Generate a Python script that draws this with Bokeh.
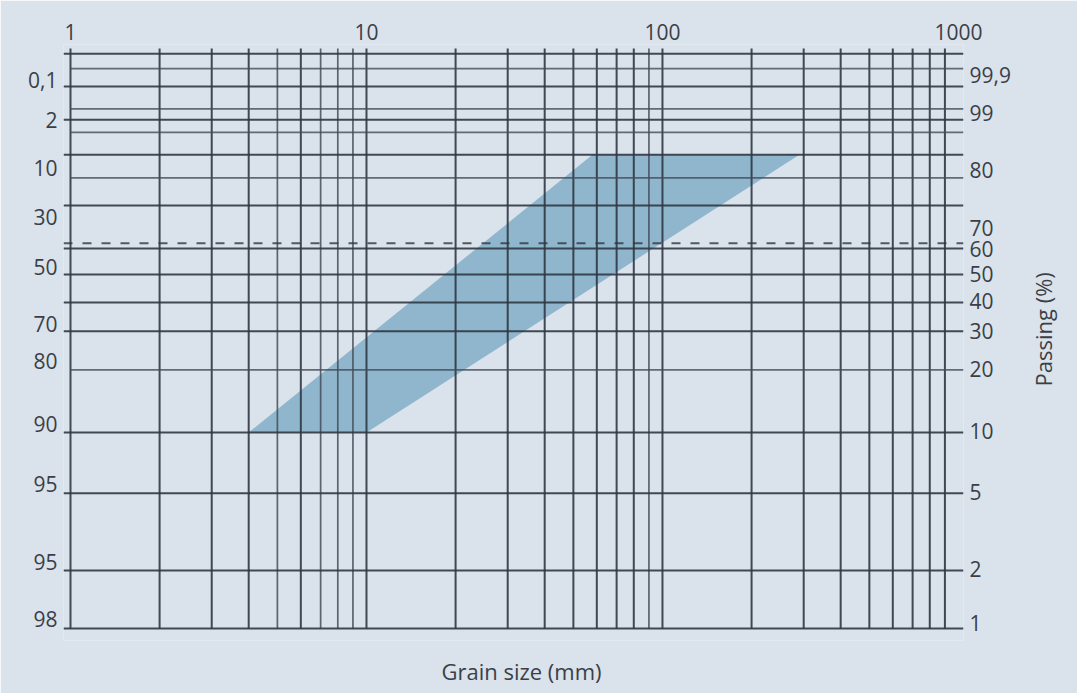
import math
from bokeh.plotting import figure
from bokeh.models import Range1d, LogAxis, LinearAxis, FixedTicker
from bokeh.embed import file_html
from bokeh.resources import INLINE

# ---------------- data ----------------
# x: grain size (mm), logarithmic
size_ticks = [1, 10, 100, 1000]
size_tick_labels = ["1", "10", "100", "1000"]
grid_sizes_dark = [1, 2, 3, 4, 6, 10, 20, 30, 40, 50, 60, 70, 80, 100,
                   200, 300, 400, 500, 600, 700, 800, 900]
grid_sizes_light = [5, 7, 8, 9, 90]

# y: position on the probability scale (0 = bottom line, 1000 = top line)
levels_long = [1000, 943, 885, 824, 736, 661, 616, 567, 517, 341, 235, 101, 0]
levels_short = [974, 904, 863, 784, 450]
levels_dashed = [670]

left_label_pos = [954, 884, 801, 716, 629, 530, 466, 356, 252, 116, 17]
left_labels = ["0,1", "2", "10", "30", "50", "70", "80", "90", "95", "95", "98"]
right_label_pos = [963, 897, 798, 697, 661, 617, 569, 518, 452, 344, 237, 104, 9]
right_labels = ["99,9", "99", "80", "70", "60", "50", "40", "30", "20", "10", "5", "2", "1"]

x_title = "Grain size (mm)"
x_title_at = [33.4]
y_title = "Passing (%)"
y_title_at = [421]

# grading envelope (grain size mm, scale position)
band_size = [4, 10, 290, 58]
band_level = [341, 341, 824, 824]

# ---------------- style ----------------
BG = "#dae2eb"
DARK = "#2f3742"
LIGHT = "#444c57"
TXT = "#3a3f47"
FONT = "Open Sans"
FS = "21px"
FS_TITLE = "22px"

X0, X1 = 0.947, 1040
p = figure(width=1077, height=693, x_axis_type="log",
           x_range=Range1d(X0, X1), y_range=Range1d(-21, 1016),
           output_backend="svg", toolbar_location=None,
           x_axis_location=None, y_axis_location=None,
           min_border_left=63, min_border_right=114,
           min_border_top=44, min_border_bottom=53,
           background_fill_color=BG, border_fill_color=BG,
           outline_line_color=None)
for g in p.grid:
    g.visible = False

# band
p.patch(band_size, band_level, fill_color="#8fb6cc", fill_alpha=1.0, line_color=None)

# vertical grid lines
p.segment(x0=grid_sizes_dark, y0=[0] * len(grid_sizes_dark),
          x1=grid_sizes_dark, y1=[1009] * len(grid_sizes_dark),
          line_color=DARK, line_width=2.0, line_alpha=0.9)
p.segment(x0=grid_sizes_light, y0=[0] * len(grid_sizes_light),
          x1=grid_sizes_light, y1=[1009] * len(grid_sizes_light),
          line_color=LIGHT, line_width=1.7, line_alpha=0.85)

# horizontal lines
p.segment(x0=[X0] * len(levels_long), y0=levels_long,
          x1=[X1] * len(levels_long), y1=levels_long,
          line_color=DARK, line_width=2.0, line_alpha=0.9)
p.segment(x0=[1] * len(levels_short), y0=levels_short,
          x1=[X1] * len(levels_short), y1=levels_short,
          line_color=LIGHT, line_width=1.7, line_alpha=0.8)
p.segment(x0=[X0] * len(levels_dashed), y0=levels_dashed,
          x1=[X1] * len(levels_dashed), y1=levels_dashed,
          line_color=DARK, line_width=2.0, line_alpha=0.8, line_dash="9 10")


def style_axis(ax, size=FS):
    ax.axis_line_color = None
    ax.major_tick_line_color = None
    ax.minor_tick_line_color = None
    ax.major_tick_out = 0
    ax.major_tick_in = 0
    ax.minor_tick_out = 0
    ax.minor_tick_in = 0
    ax.major_label_text_font = FONT
    ax.major_label_text_font_size = size
    ax.major_label_text_color = TXT


top = LogAxis(ticker=FixedTicker(ticks=size_ticks),
              major_label_overrides={t: l for t, l in zip(size_ticks, size_tick_labels)})
style_axis(top)
top.major_label_standoff = 5
p.add_layout(top, "above")

bottom = LogAxis(ticker=FixedTicker(ticks=x_title_at),
                 major_label_overrides={x_title_at[0]: x_title})
style_axis(bottom, FS_TITLE)
bottom.major_label_standoff = 15
p.add_layout(bottom, "below")

left = LinearAxis(ticker=FixedTicker(ticks=left_label_pos),
                  major_label_overrides={t: l for t, l in zip(left_label_pos, left_labels)})
style_axis(left)
left.major_label_standoff = 6
p.add_layout(left, "left")

right = LinearAxis(ticker=FixedTicker(ticks=right_label_pos),
                   major_label_overrides={t: l for t, l in zip(right_label_pos, right_labels)})
style_axis(right)
right.major_label_standoff = 6
p.add_layout(right, "right")

right_title = LinearAxis(ticker=FixedTicker(ticks=y_title_at),
                         major_label_overrides={y_title_at[0]: y_title})
style_axis(right_title, FS_TITLE)
right_title.major_label_orientation = math.pi / 2
right_title.major_label_standoff = 30
p.add_layout(right_title, "right")

open("out.html", "w").write(file_html(p, INLINE))
